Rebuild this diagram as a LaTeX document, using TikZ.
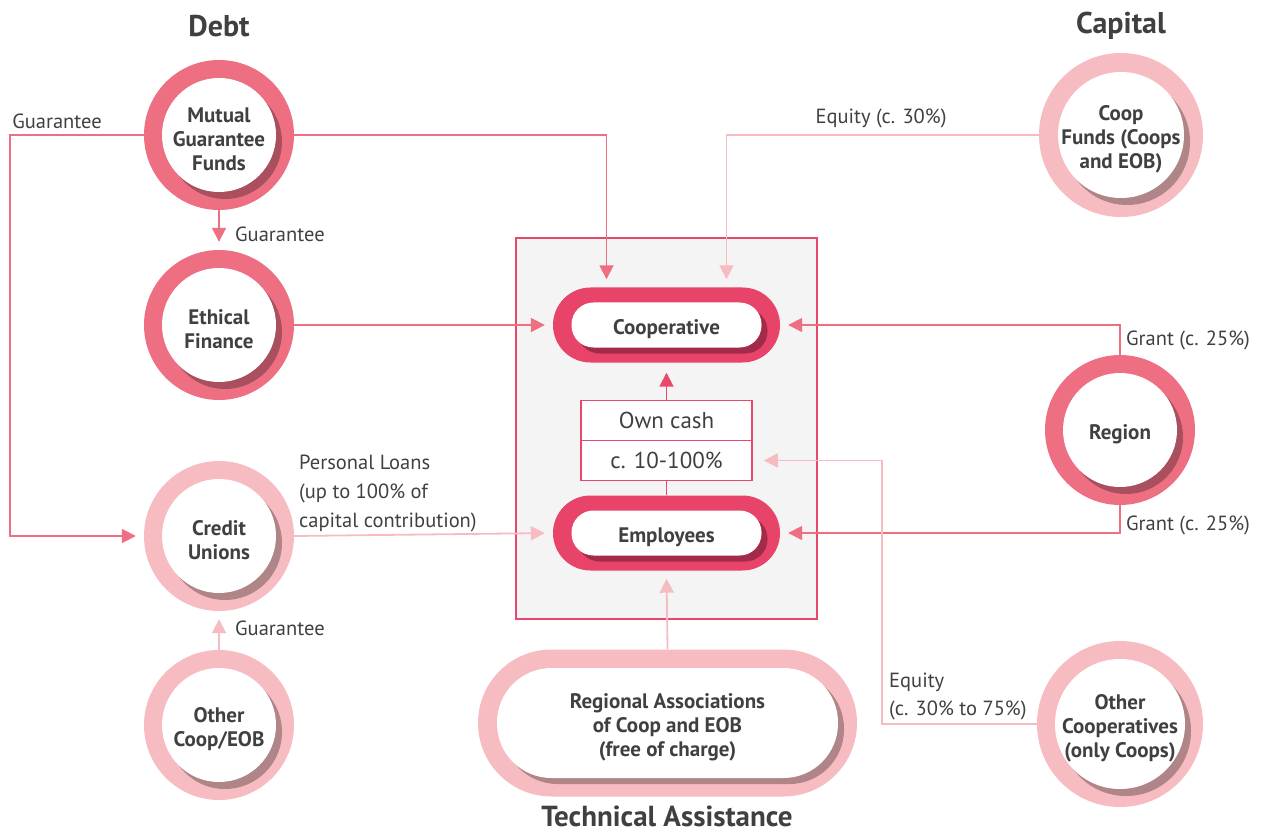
\documentclass[tikz,border=0pt]{standalone}
\usepackage{fontspec}
\setmainfont{PT Sans}
\usetikzlibrary{arrows.meta,shapes.misc}
\definecolor{medpink}{HTML}{EE6F82}
\definecolor{lightpink}{HTML}{F6BCC1}
\definecolor{medshadow}{HTML}{A94F5E}
\definecolor{lightshadow}{HTML}{AF8587}
\definecolor{pillred}{HTML}{E8446A}
\definecolor{pillshadow}{HTML}{A32B49}
\definecolor{boxred}{HTML}{E8486A}
\definecolor{boxfill}{HTML}{F4F4F4}
\definecolor{txt}{HTML}{404040}
\newcommand\tup{\rule{0pt}{23pt}}
\tikzset{
  ringc/.style n args={4}{circle, minimum size=#1, inner sep=0pt, fill=#2, draw=none,
    font=\bfseries\fontsize{21}{24}\selectfont, text=txt, align=center,
    path picture={
      \fill[#4] ([xshift=6pt,yshift=-7pt]path picture bounding box.center) circle (#3);
      \fill[white] (path picture bounding box.center) circle (#3);
    }},
  pillc/.style n args={6}{rounded rectangle, minimum width=#1, minimum height=#2, inner sep=0pt,
    fill=#3, draw=none, font=\bfseries\fontsize{21}{24}\selectfont, text=txt, align=center,
    path picture={
      \fill[#6, rounded corners=#5/2-0.5pt] ([xshift=6pt,yshift=-6pt]path picture bounding box.center)
        +(-#4/2,-#5/2) rectangle +(#4/2,#5/2);
      \fill[white, rounded corners=#5/2-0.5pt] (path picture bounding box.center)
        +(-#4/2,-#5/2) rectangle +(#4/2,#5/2);
    }},
  lbl/.style={font=\fontsize{20.5}{29}\selectfont, text=txt, inner sep=0pt, align=left},
  heading/.style={font=\bfseries\fontsize{30}{32}\selectfont, text=txt, inner sep=0pt},
  cashbox/.style={draw=boxred, line width=1.6pt, fill=white, minimum width=171pt, minimum height=40pt,
    inner sep=0pt, font=\fontsize{23}{26}\selectfont, text=txt},
  medarrow/.style={draw=medpink, line width=1.8pt, -{Triangle[length=14pt,width=14pt]}, shorten >=8pt},
  lightarrow/.style={draw=lightpink, line width=1.8pt, -{Triangle[length=14pt,width=14pt]}, shorten >=8pt},
}
\begin{document}
\begin{tikzpicture}[x=1pt,y=-1pt]
\useasboundingbox (0,0) rectangle (1261,834);

% central frame
\node[draw=boxred, fill=boxfill, line width=1.8pt, minimum width=301pt, minimum height=381pt, inner sep=0pt] (frame) at (666.5,428.5) {};

% headings
\node[heading] (hdebt) at (219,26) {Debt};
\node[heading] (hcap) at (1121,26) {Capital};
\node[heading, font=\bfseries\fontsize{29}{31}\selectfont] (htech) at (667,816) {Technical Assistance};

% circles
\node[ringc={150pt}{medpink}{57pt}{medshadow}] (mgf) at (219,135) {\tup Mutual\\Guarantee\\Funds};
\node[ringc={150pt}{medpink}{57pt}{medshadow}] (ethical) at (219,325) {\tup Ethical\\Finance};
\node[ringc={150pt}{lightpink}{57pt}{lightshadow}] (credit) at (219,536) {\tup Credit\\Unions};
\node[ringc={150pt}{lightpink}{57pt}{lightshadow}] (othercoop) at (219,725) {\tup Other\\Coop/EOB};
\node[ringc={164pt}{lightpink}{63pt}{lightshadow}] (coopfunds) at (1121,135) {\tup Coop\\Funds (Coops\\and EOB)};
\node[ringc={150pt}{medpink}{57pt}{medshadow}] (region) at (1120,430) {\tup Region};
\node[ringc={166pt}{lightpink}{65pt}{lightshadow}] (othercoops) at (1120,724) {\tup Other\\Cooperatives\\(only Coops)};

% pills
\node[pillc={227pt}{75pt}{pillred}{190pt}{45pt}{pillshadow}] (coop) at (666.5,325) {\tup Cooperative};
\node[pillc={227pt}{75pt}{pillred}{190pt}{45pt}{pillshadow}] (employees) at (666.5,533) {\tup Employees};
\node[pillc={379pt}{147pt}{lightpink}{341pt}{110pt}{lightshadow}] (regassoc) at (667.5,723) {\tup Regional Associations\\of Coop and EOB\\(free of charge)};

% own cash box
\node[cashbox] (cashtop) at (666.5,420.5) {Own cash};
\node[cashbox] (cashpct) at (666.5,460.5) {c. 10-100\%};

% helper coordinates
\coordinate (gl) at (10,135);
\coordinate (eqc) at (882,724);

% connectors
\draw[medarrow] (mgf.east) -| ([xshift=-60pt]coop.north);
\draw[lightarrow] (coopfunds.west) -| ([xshift=60pt]coop.north);
\draw[medarrow] (ethical.east) -- (coop.west);
\draw[medarrow] (region.north) |- (coop.east);
\draw[medarrow] (region.south) |- (employees.east);
\draw[lightarrow] (credit.east) -- (employees.west);
\draw[lightarrow] (othercoops.west) -- (eqc) |- ([xshift=3pt]cashpct.east);
\draw[medarrow] (mgf.south) -- (ethical.north);
\draw[medarrow] (mgf.west) -- (gl) |- (credit.west);
\draw[lightarrow] (othercoop.north) -- (credit.south);
\draw[lightarrow] (regassoc.north) -- (employees.south);
\draw[draw=boxred, line width=1.8pt, -{Triangle[length=14pt,width=14pt]}, shorten >=10pt] (cashtop.north) -- (coop.south);
\draw[draw=boxred, line width=1.8pt] (cashpct.south) -- (employees.north);

% labels
\node[lbl] (lg1) at (57,121) {Guarantee};
\node[lbl, anchor=west] (lg2) at (235,234) {Guarantee};
\node[lbl, anchor=west] (lg3) at (235,628) {Guarantee};
\node[lbl] (leq1) at (881,118) {Equity (c. 30\%)};
\node[lbl] (lgr1) at (1188,340) {Grant (c. 25\%)};
\node[lbl] (lgr2) at (1188,525) {Grant (c. 25\%)};
\node[lbl, anchor=west] (lpl) at (299,493) {Personal Loans\\(up to 100\% of\\capital contribution)};
\node[lbl, anchor=west, font=\fontsize{20.5}{28}\selectfont] (leq2) at (889,696) {Equity\\(c. 30\% to 75\%)};
\end{tikzpicture}
\end{document}
